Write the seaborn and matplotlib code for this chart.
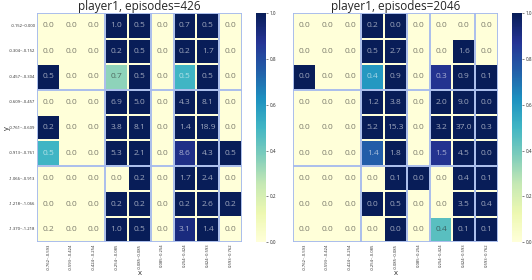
import numpy as np
import pandas as pd
import seaborn as sns
import matplotlib
matplotlib.use('Agg')
import matplotlib.pyplot as plt

sns.set_theme(style='white')
plt.rcParams['font.family'] = ['Open Sans', 'DejaVu Sans']

x_labels = ['-0.762~-0.593', '-0.593~-0.424', '-0.424~-0.254', '-0.254~-0.085',
            '-0.085~0.085', '0.085~0.254', '0.254~0.424', '0.424~0.593', '0.593~0.762']
y_labels = ['-0.152~0.000', '-0.304~-0.152', '-0.457~-0.304', '-0.609~-0.457',
            '-0.761~-0.609', '-0.913~-0.761', '-1.066~-0.913', '-1.218~-1.066',
            '-1.370~-1.218']

# значения в ячейках
values_426 = [
    [0.0, 0.0, 0.0, 1.0, 0.5, 0.0, 0.7, 0.5, 0.0],
    [0.0, 0.0, 0.0, 0.2, 0.5, 0.0, 0.2, 1.7, 0.0],
    [0.5, 0.0, 0.0, 0.7, 0.5, 0.0, 0.5, 0.5, 0.0],
    [0.0, 0.0, 0.0, 6.9, 5.0, 0.0, 4.3, 8.1, 0.0],
    [0.2, 0.0, 0.0, 3.8, 8.1, 0.0, 1.4, 18.9, 0.0],
    [0.5, 0.0, 0.0, 5.3, 2.1, 0.0, 8.6, 4.3, 0.5],
    [0.0, 0.0, 0.0, 0.0, 0.2, 0.0, 1.7, 2.4, 0.0],
    [0.0, 0.0, 0.0, 0.2, 0.2, 0.0, 0.2, 2.6, 0.2],
    [0.2, 0.0, 0.0, 1.0, 0.5, 0.0, 3.1, 1.4, 0.0],
]
values_2046 = [
    [0.0, 0.0, 0.0, 0.2, 0.0, 0.0, 0.0, 0.0, 0.0],
    [0.0, 0.0, 0.0, 0.5, 2.7, 0.0, 0.0, 1.6, 0.0],
    [0.0, 0.0, 0.0, 0.4, 0.9, 0.0, 0.3, 0.9, 0.1],
    [0.0, 0.0, 0.0, 1.2, 3.8, 0.0, 2.0, 9.0, 0.0],
    [0.0, 0.0, 0.0, 5.2, 15.3, 0.0, 3.2, 37.0, 0.3],
    [0.0, 0.0, 0.0, 1.4, 1.8, 0.0, 1.5, 4.5, 0.0],
    [0.0, 0.0, 0.0, 0.0, 0.1, 0.0, 0.0, 0.4, 0.1],
    [0.0, 0.0, 0.0, 0.0, 0.5, 0.0, 0.0, 3.5, 0.4],
    [0.0, 0.0, 0.0, 0.0, 0.0, 0.0, 0.4, 0.1, 0.1],
]

# цвет ячеек (отдельная величина)
colors_426 = [
    [0, 0, 0, 1, 1, 0, 1, 1, 0],
    [0, 0, 0, 1, 1, 0, 1, 1, 0],
    [1, 0, 0, 0.35, 1, 0, 0.5, 1, 0],
    [0, 0, 0, 1, 1, 0, 1, 1, 0],
    [1, 0, 0, 1, 1, 0, 1, 1, 0],
    [0.5, 0, 0, 1, 1, 0, 0.9, 1, 1],
    [0, 0, 0, 0, 1, 0, 1, 1, 0],
    [0, 0, 0, 1, 1, 0, 1, 1, 1],
    [0, 0, 0, 1, 1, 0, 0.92, 1, 0],
]
colors_2046 = [
    [0, 0, 0, 1, 1, 0, 0, 0, 0],
    [0, 0, 0, 1, 1, 0, 0, 1, 0],
    [1, 0, 0, 0.6, 1, 0, 0.88, 1, 1],
    [0, 0, 0, 1, 1, 0, 1, 1, 1],
    [0, 0, 0, 1, 1, 0, 1, 1, 1],
    [0, 0, 0, 0.75, 1, 0, 0.88, 1, 1],
    [0, 0, 0, 0, 1, 1, 0, 1, 1],
    [0, 0, 0, 1, 1, 0, 0, 1, 1],
    [0, 0, 0, 0, 1, 0, 0.45, 1, 1],
]

v_lines = [0, 3, 5, 6, 8, 9]
h_lines = [0, 3, 6, 9]


def draw(ax, cax, colors, values, title, show_y):
    df = pd.DataFrame(colors, index=y_labels, columns=x_labels)
    sns.heatmap(df, ax=ax, cbar_ax=cax, cmap='YlGnBu', vmin=0, vmax=1,
                annot=np.array(values), fmt='.1f',
                annot_kws={'size': 6, 'alpha': 0.6},
                linewidths=0.25, linecolor='#ffffd9',
                yticklabels=show_y)
    for x in v_lines:
        ax.axvline(x, color='#a4b9ee', lw=1.3)
    for y in h_lines:
        ax.axhline(y, color='#a4b9ee', lw=1.3)
    ax.set_title(title, fontsize=8.5, pad=2)
    ax.set_xlabel('x', fontsize=5.5, labelpad=0)
    ax.tick_params(axis='both', length=0, labelsize=3.0, pad=1)
    ax.tick_params(axis='x', rotation=90)
    if show_y:
        ax.set_ylabel('y', fontsize=5.5, labelpad=-1)
        ax.tick_params(axis='y', rotation=0)
    else:
        ax.set_ylabel('')
    cax.tick_params(labelsize=3.3, length=1.5, width=0.4, pad=1)
    cax.set_yticks([0, 0.2, 0.4, 0.6, 0.8, 1.0])
    cax.set_yticklabels(['0.0', '0.2', '0.4', '0.6', '0.8', '1.0'])
    for s in cax.spines.values():
        s.set_visible(False)


fig = plt.figure(figsize=(5.32, 2.8), dpi=100)
ax1 = fig.add_axes([0.0695, 0.135, 0.385, 0.818])
cax1 = fig.add_axes([0.481, 0.135, 0.0188, 0.818])
ax2 = fig.add_axes([0.551, 0.135, 0.385, 0.818])
cax2 = fig.add_axes([0.962, 0.135, 0.0188, 0.818])

draw(ax1, cax1, colors_426, values_426, 'player1, episodes=426', True)
draw(ax2, cax2, colors_2046, values_2046, 'player1, episodes=2046', False)

plt.savefig('out.png', dpi=100)
